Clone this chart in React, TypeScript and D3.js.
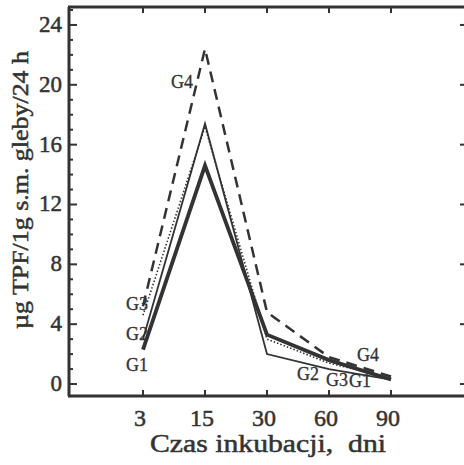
import React from "react";
import * as d3 from "d3";

const days = ["3", "15", "30", "60", "90"];
const g1 = [2.3, 14.6, 3.3, 1.6, 0.3];
const g2 = [3.0, 17.4, 2.0, 1.0, 0.3];
const g3 = [4.6, 17.2, 3.0, 1.4, 0.4];
const g4 = [5.2, 22.4, 4.8, 1.8, 0.5];
const yTicks = [0, 4, 8, 12, 16, 20, 24];
const seriesNames = ["G1", "G2", "G3", "G4"];

const W = 464, H = 465;
const left = 69, top = 7, bottom = 396, right = 468;

export default function App() {
  const x = d3.scalePoint<string>().domain(days).range([143, 391]);
  const y = d3.scaleLinear().domain([-0.8, 25.2]).range([bottom, top]);
  const line = d3.line<number>().x((_, i) => x(days[i]) as number).y((d) => y(d));
  const minor = d3.range(0, 26, 1).filter((v) => y(v) > top + 2);
  const col = "#333";
  const ff = "'Liberation Serif', 'DejaVu Serif', 'Times New Roman', serif";
  const ink = { stroke: col, strokeWidth: 0.5 };
  const series = [
    { name: seriesNames[0], data: g1, w: 3.8, dash: "" },
    { name: seriesNames[1], data: g2, w: 1.8, dash: "" },
    { name: seriesNames[2], data: g3, w: 1.6, dash: "1.5 2" },
    { name: seriesNames[3], data: g4, w: 2.5, dash: "11 7" },
  ];
  return (
    <svg width={W} height={H} style={{ position: "absolute", left: 0, top: 0, background: "#fff", fontFamily: ff }}>
      <rect width={W} height={H} fill="#fff" />
      {/* frame */}
      <line x1={left} x2={left} y1={top} y2={bottom} stroke={col} strokeWidth={3} />
      <line x1={left - 1} x2={W} y1={bottom} y2={bottom} stroke={col} strokeWidth={3} />
      <line x1={left - 1} x2={W} y1={top} y2={top} stroke={col} strokeWidth={3} />
      <line x1={right} x2={right} y1={top} y2={bottom} stroke={col} strokeWidth={3} />
      {/* y ticks */}
      {minor.map((v) => {
        const major = v % 4 === 0;
        const len = major ? 8 : 4;
        return (
          <g key={"yt" + v}>
            <line x1={left} x2={left + len} y1={y(v)} y2={y(v)} stroke={col} strokeWidth={2} />
            <line x1={right} x2={right - len} y1={y(v)} y2={y(v)} stroke={col} strokeWidth={2} />
          </g>
        );
      })}
      {yTicks.map((v) => (
        <text key={"yl" + v} x={62} y={y(v) + 7} textAnchor="end" style={{ fontFamily: ff }} fontSize={23} fill={col} {...ink}>
          {v}
        </text>
      ))}
      {/* x ticks */}
      {days.map((d) => (
        <g key={"xt" + d}>
          <line x1={x(d)} x2={x(d)} y1={bottom} y2={bottom - 6} stroke={col} strokeWidth={2} />
          <line x1={x(d)} x2={x(d)} y1={top} y2={top + 6} stroke={col} strokeWidth={2} />
          <text x={(x(d) as number) - 3} y={426} textAnchor="middle" style={{ fontFamily: ff }} fontSize={24} fill={col} {...ink}>
            {d}
          </text>
        </g>
      ))}
      <text
        x={268}
        y={452}
        textAnchor="middle"
        style={{ fontFamily: ff, whiteSpace: "pre" }}
        fontSize={25}
        fill={col}
        {...ink}
        textLength={236}
        lengthAdjust="spacingAndGlyphs"
      >
        {"Czas inkubacji,  dni"}
      </text>
      <text
        transform={`translate(28, 190) rotate(-90)`}
        textAnchor="middle"
        style={{ fontFamily: ff }}
        fontSize={23}
        fill={col}
        {...ink}
        textLength={278}
        lengthAdjust="spacingAndGlyphs"
      >
        µg TPF/1g s.m. gleby/24 h
      </text>
      {/* lines */}
      {series.map((s) => (
        <path
          key={s.name}
          d={line(s.data) as string}
          fill="none"
          stroke={col}
          strokeWidth={s.w}
          strokeDasharray={s.dash || undefined}
          strokeLinejoin="miter"
        />
      ))}
      {/* labels */}
      <g style={{ fontFamily: ff }} fontSize={18} fill={col} stroke={col} strokeWidth={0.3}>
        <text x={182} y={88} textAnchor="middle">G4</text>
        <text x={137} y={310} textAnchor="middle">G3</text>
        <text x={137} y={340} textAnchor="middle">G2</text>
        <text x={137} y={371} textAnchor="middle">G1</text>
        <text x={308} y={380} textAnchor="middle">G2</text>
        <text x={337} y={386} textAnchor="middle">G3</text>
        <text x={360} y={387} textAnchor="middle">G1</text>
        <text x={368} y={361} textAnchor="middle">G4</text>
      </g>
    </svg>
  );
}
